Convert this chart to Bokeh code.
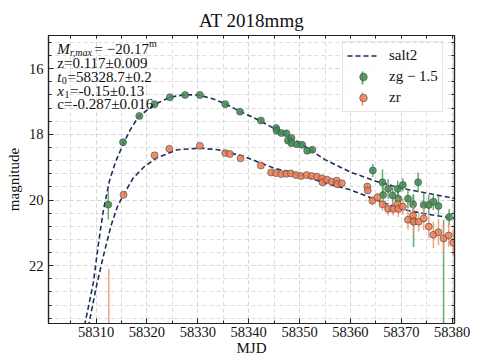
from bokeh.plotting import figure
from bokeh.models import (Range1d, SingleIntervalTicker, FixedTicker, LinearAxis, Label, Legend,
                          LegendItem, ColumnDataSource, BoxAnnotation)
from bokeh.embed import file_html
from bokeh.resources import INLINE

# ---------------- data ----------------
# ZTF g band, plotted shifted (zg - 1.5)
zg_mjd = [58312.4, 58315.3, 58318.5, 58321.5, 58324.5, 58327.5, 58330.4, 58335.4, 58338.3,
          58342.4, 58345.4, 58345.5, 58346.4, 58347.4, 58347.7, 58348.4, 58348.4, 58349.5,
          58350.5, 58351.5, 58352.5,
          58364.4, 58366.3, 58366.4, 58367.4, 58368.3, 58369.3, 58369.4, 58370.3, 58371.3,
          58372.3, 58372.4, 58373.3, 58374.4, 58375.4, 58376.3, 58377.3, 58378.3, 58379.4]
zg_mag = [20.14, 18.24, 17.44, 17.08, 16.87, 16.80, 16.80, 17.08, 17.31,
          17.58, 17.81, 17.89, 17.96, 17.97, 18.19, 18.11, 18.27, 18.30,
          18.32, 18.50, 18.47,
          19.10, 19.46, 19.85, 19.66, 19.86, 19.66, 19.96, 19.54, 19.96,
          20.13, 20.63, 19.46, 20.15, 20.15, 20.05, 20.18, 24.20, 20.52]
zg_err = [0.45, 0.06, 0.04, 0.04, 0.03, 0.03, 0.03, 0.04, 0.04,
          0.05, 0.06, 0.06, 0.06, 0.07, 0.07, 0.07, 0.07, 0.07,
          0.08, 0.09, 0.09,
          0.20, 0.40, 0.35, 0.30, 0.30, 0.25, 0.35, 0.20, 0.30,
          0.30, 0.80, 0.30, 0.35, 0.30, 0.25, 0.30, 3.60, 0.25]

# ZTF r band
zr_mjd = [58312.5, 58315.4, 58321.5, 58324.4, 58330.4, 58335.4, 58336.3, 58338.4, 58342.4,
          58344.4, 58345.4, 58346.4, 58347.4, 58348.3, 58349.3, 58350.3, 58351.4, 58352.4,
          58353.4, 58354.4, 58354.5, 58355.4, 58356.3, 58357.3, 58357.4, 58358.3,
          58363.3, 58363.4, 58364.3, 58365.3, 58366.3, 58367.4, 58368.4, 58369.3, 58369.4,
          58370.3, 58371.3, 58372.3, 58372.4, 58373.4, 58374.4, 58375.4, 58376.3, 58377.3,
          58378.3, 58379.3, 58380.2]
zr_mag = [25.00, 19.84, 18.64, 18.44, 18.35, 18.57, 18.60, 18.73, 18.95,
          19.16, 19.18, 19.21, 19.20, 19.19, 19.24, 19.27, 19.24, 19.27,
          19.29, 19.34, 19.46, 19.38, 19.44, 19.41, 19.52, 19.49,
          19.59, 19.71, 20.02, 19.92, 20.13, 20.27, 20.27, 20.13, 20.27,
          20.20, 20.60, 20.47, 20.66, 20.66, 20.56, 20.81, 21.06, 20.98,
          21.17, 21.08, 21.30]
zr_err = [2.90, 0.10, 0.04, 0.04, 0.03, 0.04, 0.04, 0.04, 0.05,
          0.05, 0.05, 0.05, 0.05, 0.05, 0.05, 0.06, 0.06, 0.06,
          0.06, 0.07, 0.07, 0.07, 0.07, 0.07, 0.07, 0.08,
          0.10, 0.10, 0.15, 0.15, 0.20, 0.20, 0.20, 0.20, 0.25,
          0.25, 0.30, 0.30, 0.35, 0.30, 0.35, 0.35, 0.40, 0.40,
          0.45, 0.35, 0.40]

# SALT2 model curves (g curve shifted by -1.5)
salt2_g_mjd = [58307.3, 58307.8, 58308.7, 58309.5, 58310.4, 58311.4, 58312.6, 58313.8,
               58315.4, 58316.8, 58318.3, 58321.3, 58324.5, 58327.5, 58330.4, 58333.0,
               58335.4, 58338.3, 58342.4, 58345.2, 58350.1, 58355.0, 58360.0, 58365.0,
               58370.0, 58375.0, 58380.5]
salt2_g_mag = [24.30, 23.77, 23.10, 22.49, 21.40, 20.35, 19.43, 18.85,
               18.27, 17.84, 17.47, 17.11, 16.87, 16.79, 16.81, 16.92,
               17.07, 17.30, 17.60, 17.84, 18.27, 18.77, 19.15, 19.43,
               19.64, 19.79, 19.95]
salt2_r_mjd = [58308.2, 58308.6, 58310.1, 58311.6, 58313.0, 58314.2, 58315.4, 58317.3,
               58319.5, 58321.9, 58325.9, 58330.4, 58334.0, 58339.0, 58345.0, 58350.0,
               58355.0, 58360.0, 58365.0, 58370.0, 58375.0, 58380.5]
salt2_r_mag = [24.10, 23.77, 22.60, 21.60, 20.75, 20.20, 19.84, 19.33,
               18.98, 18.72, 18.47, 18.42, 18.47, 18.67, 19.03, 19.22,
               19.49, 19.69, 19.99, 20.28, 20.43, 20.56]

title_text = "AT 2018mmg"
legend_labels = ["salt2", "zg \u2212 1.5", "zr"]
fit_lines = ["z=0.117\u00b10.009", "c=-0.287\u00b10.016"]
x_major_step, x_minor_step = 10, 5
y_major_step, y_minor_step = 2, 0.4

# ---------------- styles ----------------
FONT = "Liberation Serif"
NAVY = "#1f2d5c"
G_FILL, G_BAR = "#3d8b4f", "#4e9e60"
R_FILL, R_BAR = "#f07c52", "#f5916a"
EDGE = "#4a4a4a"
AX = "#222222"

X0, X1 = 58300.65, 58380.45
Y_BOTTOM, Y_TOP = 23.76, 14.99
W, H = 478, 359
BL, BR, BT, BB = 48, 24, 35, 36
FRAME_W = W - BL - BR
FRAME_H = H - BT - BB

p = figure(width=W, height=H, output_backend="svg", toolbar_location=None,
           x_range=Range1d(X0, X1), y_range=Range1d(Y_BOTTOM, Y_TOP),
           min_border_left=BL, min_border_right=BR, min_border_top=BT, min_border_bottom=BB,
           background_fill_color="white", border_fill_color="white")
p.title.text = title_text
p.title.align = "center"
p.title.text_font = FONT
p.title.text_font_size = "19px"
p.title.text_font_style = "normal"
p.title.text_color = "#111111"
p.title.standoff = 10

xt = SingleIntervalTicker(interval=x_major_step, num_minor_ticks=int(x_major_step / x_minor_step))
yt = SingleIntervalTicker(interval=y_major_step, num_minor_ticks=int(round(y_major_step / y_minor_step)))
p.xaxis.ticker = xt
p.yaxis.ticker = yt

def style_axis(ax):
    ax.axis_line_color = AX
    ax.axis_line_width = 1.2
    ax.major_tick_in = 5
    ax.major_tick_out = 0
    ax.minor_tick_in = 3
    ax.minor_tick_out = 0
    ax.major_tick_line_color = AX
    ax.minor_tick_line_color = AX
    ax.major_label_text_font = FONT
    ax.major_label_text_font_size = "14.5px"
    ax.major_label_text_color = "#111111"

for ax in p.xaxis + p.yaxis:
    style_axis(ax)
p.yaxis.major_label_standoff = 5
p.xaxis.major_label_standoff = 3
p.yaxis.axis_label = "magnitude"
p.xaxis.axis_label = "MJD"
for ax in p.xaxis + p.yaxis:
    ax.axis_label_text_font = FONT
    ax.axis_label_text_font_size = "15px"
    ax.axis_label_text_font_style = "normal"
    ax.axis_label_text_color = "#111111"
p.yaxis.axis_label_standoff = 4
p.xaxis.axis_label_standoff = 0

# top / right ticks only (no labels)
n_x = int(round((X1 - X0) / x_minor_step)) + 2
top_ticks = [58300 + i * x_minor_step for i in range(n_x)]
n_y = int(round((Y_BOTTOM - Y_TOP) / y_minor_step)) + 3
right_ticks = [round(14 + i * y_minor_step, 2) for i in range(n_y)]
top_ax = LinearAxis(ticker=FixedTicker(ticks=[], minor_ticks=top_ticks))
right_ax = LinearAxis(ticker=FixedTicker(ticks=[], minor_ticks=right_ticks))
for ax in (top_ax, right_ax):
    style_axis(ax)
    ax.minor_tick_in = 3
    ax.major_label_standoff = 0
p.add_layout(top_ax, "above")
p.add_layout(right_ax, "right")

for g in (p.xgrid, p.ygrid):
    g.grid_line_color = "#d4d4d4"
    g.grid_line_dash = "4 3"
    g.grid_line_width = 0.8
    g.minor_grid_line_color = "#d4d4d4"
    g.minor_grid_line_dash = "4 3"
    g.minor_grid_line_width = 0.8
p.xgrid.ticker = xt
p.ygrid.ticker = yt
p.outline_line_color = AX
p.outline_line_width = 1.2

# model curves
line_g = p.line(salt2_g_mjd, salt2_g_mag, line_color=NAVY, line_width=1.6, line_dash="5 3")
line_r = p.line(salt2_r_mjd, salt2_r_mag, line_color=NAVY, line_width=1.6, line_dash="5 3")

# data with error bars
def band(mjd, mag, err, bar, fill):
    src = ColumnDataSource(dict(x=mjd, y=mag,
                                lo=[m - e for m, e in zip(mag, err)],
                                hi=[m + e for m, e in zip(mag, err)]))
    p.segment(x0="x", y0="lo", x1="x", y1="hi", source=src, line_color=bar,
              line_width=1.5, line_alpha=0.85)
    return p.scatter("x", "y", source=src, size=7, fill_color=fill, fill_alpha=0.85,
                     line_color=EDGE, line_width=0.8, line_alpha=0.8)

g_pts = band(zg_mjd, zg_mag, zg_err, G_BAR, G_FILL)
r_pts = band(zr_mjd, zr_mag, zr_err, R_BAR, R_FILL)

# ---- legend ----
# layout px (from frame's bottom-left) converted to data units for the helper marks
def sx_to_x(sx):
    return X0 + sx / FRAME_W * (X1 - X0)

def sy_to_y(sy):
    return Y_BOTTOM - sy / FRAME_H * (Y_BOTTOM - Y_TOP)

LEG_X, LEG_Y, PAD, ROW, SP, LEG_W = 294, 211, 4, 19, 2, 104
LEG_H = 2 * PAD + 3 * ROW + 2 * SP

# white panel behind the (transparent) legend
p.add_layout(BoxAnnotation(left=sx_to_x(LEG_X), right=sx_to_x(LEG_X + LEG_W),
                           bottom=sy_to_y(LEG_Y), top=sy_to_y(LEG_Y + LEG_H),
                           fill_color="white", fill_alpha=0.88, line_color=None,
                           level="annotation"))

# vertical error-bar strokes of the legend symbols
gx = sx_to_x(LEG_X + PAD + 16)
for row, col in ((1, G_BAR), (0, R_BAR)):
    cy = LEG_Y + PAD + ROW / 2 + row * (ROW + SP)
    src = ColumnDataSource(dict(x=[gx], y0=[sy_to_y(cy - 6.5)], y1=[sy_to_y(cy + 6.5)]))
    p.segment(x0="x", y0="y0", x1="x", y1="y1", source=src, line_color=col,
              line_width=1.6, level="overlay")

legend = Legend(items=[LegendItem(label=legend_labels[0], renderers=[line_g]),
                       LegendItem(label=legend_labels[1], renderers=[g_pts]),
                       LegendItem(label=legend_labels[2], renderers=[r_pts])],
                location=(LEG_X, LEG_Y), padding=PAD, spacing=SP, glyph_height=ROW,
                glyph_width=32, label_height=ROW, label_standoff=10, label_text_font=FONT,
                label_text_font_size="15px", label_text_color="#111111",
                border_line_color="#cccccc", border_line_width=1,
                background_fill_alpha=0.0, margin=0)
p.add_layout(legend)

# fit annotation (screen units, relative to frame's bottom-left)
def lab(text, x, y, size="15px", style="normal"):
    p.add_layout(Label(x=x, y=y, x_units="screen", y_units="screen", text=text,
                       text_font=FONT, text_font_size=size, text_font_style=style,
                       text_baseline="middle", text_align="left", text_color="#111111"))

TOP = FRAME_H
lab("M", 8.8, TOP - 13, style="italic")
lab("r,max", 21.5, TOP - 17, size="10px", style="italic")
lab("= \u221220.17", 46, TOP - 13)
lab("m", 100.5, TOP - 8, size="10px")
lab(fit_lines[0], 8.8, TOP - 27)
lab("t", 8.8, TOP - 41.5, style="italic")
lab("0", 13.2, TOP - 45, size="10px")
lab("=58328.7\u00b10.2", 19, TOP - 41.5)
lab("x", 8.8, TOP - 55, style="italic")
lab("1", 16, TOP - 58.5, size="10px")
lab("=-0.15\u00b10.13", 21.5, TOP - 55)
lab(fit_lines[1], 8.8, TOP - 68.5)

open("out.html", "w").write(file_html(p, INLINE))
